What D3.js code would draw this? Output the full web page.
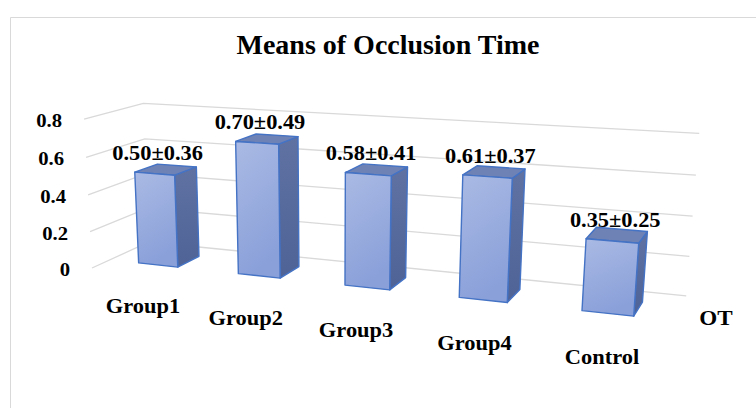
<!DOCTYPE html>
<html>
<head>
<meta charset="utf-8">
<script src="https://cdn.jsdelivr.net/npm/d3@7"></script>
<style>
  body { margin: 0; background: #fff; }
  text { font-family: "Liberation Serif", "Times New Roman", serif; font-weight: bold; fill: #000; }
</style>
</head>
<body>
<svg id="chart" width="756" height="408"></svg>
<script>
var categories = ["Group1", "Group2", "Group3", "Group4", "Control"];
var means = [0.50, 0.70, 0.58, 0.61, 0.35];
var sds = [0.36, 0.49, 0.41, 0.37, 0.25];
var yTicks = [0, 0.2, 0.4, 0.6, 0.8];
var series = ["OT"];

var width = 756, height = 408;

// camera: vanishing points of the three axes and image of the front-left floor corner
var vpX = [-2842, -58], vpY = [330, 4741], vpZ = [889, -96], origin = [92, 268];
var kX = -0.164, kY = -0.0322, kZ = 0.0769;

function project(u, v, w) {
  var hx = kX * u * vpX[0] + kY * v * vpY[0] + kZ * w * vpZ[0] + origin[0],
      hy = kX * u * vpX[1] + kY * v * vpY[1] + kZ * w * vpZ[1] + origin[1],
      hw = kX * u + kY * v + kZ * w + 1;
  return [hx / hw, hy / hw];
}

var xScale = d3.scaleBand().domain(categories).range([0, 1]).paddingInner(0.6).paddingOuter(0.3),
    yScale = d3.scaleLinear().domain([0, 0.8]).range([0, 1]),
    zScale = d3.scaleBand().domain(series).range([0, 1]).paddingInner(0.6).paddingOuter(0.3);

var fmt = d3.format(".2f");
var poly = d3.line().curve(d3.curveLinearClosed);

var svg = d3.select('#chart');

// chart area border
svg.append('path')
    .attr('d', 'M10.5,' + (height + 5) + 'V17.5H' + (width + 5))
    .attr('fill', 'none')
    .attr('stroke', '#d9d9d9')
    .attr('stroke-width', 1);

var defs = svg.append('defs');
var gFront = defs.append('linearGradient').attr('id', 'front')
    .attr('x1', 0).attr('y1', 0).attr('x2', 0.3).attr('y2', 1);
gFront.append('stop').attr('offset', 0).attr('stop-color', '#aabae4');
gFront.append('stop').attr('offset', 1).attr('stop-color', '#8aa0d9');
var gSide = defs.append('linearGradient').attr('id', 'side')
    .attr('x1', 0).attr('y1', 0).attr('x2', 0).attr('y2', 1);
gSide.append('stop').attr('offset', 0).attr('stop-color', '#5f72a2');
gSide.append('stop').attr('offset', 1).attr('stop-color', '#4f6397');

svg.append('text')
    .attr('x', 388)
    .attr('y', 54)
    .attr('text-anchor', 'middle')
    .style('font-size', '28px')
    .text('Means of Occlusion Time');

// text placed at a point, widened a little like the original rendering
function place(sx) {
  return function(p) { return 'translate(' + p[0] + ',' + p[1] + ') scale(' + sx + ',1)'; };
}

// Gridlines on the back wall and the left wall.
var grid = svg.append('g').attr('class', 'grid')
    .attr('stroke', '#d9d9d9')
    .attr('stroke-width', 1.3)
    .attr('fill', 'none');

yTicks.forEach(function(t) {
  var v = yScale(t);
  grid.append('path').attr('d', d3.line()([project(0, v, 0), project(0, v, 1), project(1, v, 1)]));
});

// tick labels along the front edge of the left wall
svg.append('g').selectAll('text')
    .data(yTicks)
  .enter().append('text')
    .attr('transform', function(d) {
      var p = project(0, yScale(d), 0);
      return place(1.15)([p[0] - 22, p[1] + 8]);
    })
    .attr('text-anchor', 'end')
    .style('font-size', '18px')
    .text(function(d) { return d === 0 ? '0' : d3.format('.1f')(d); });

var w0 = zScale(series[0]), w1 = w0 + zScale.bandwidth();

var bars = svg.selectAll('.bar')
    .data(categories)
  .enter().append('g')
    .attr('class', 'bar')
    .attr('stroke', '#4472c4')
    .attr('stroke-width', 1.4)
    .attr('stroke-linejoin', 'round');

bars.each(function(c, i) {
  var g = d3.select(this),
      u0 = xScale(c),
      u1 = u0 + xScale.bandwidth(),
      vt = yScale(means[i]);

  g.append('path')
      .attr('fill', 'url(#side)')
      .attr('d', poly([project(u1, 0, w0), project(u1, 0, w1), project(u1, vt, w1), project(u1, vt, w0)]));
  g.append('path')
      .attr('fill', '#6e82b5')
      .attr('d', poly([project(u0, vt, w0), project(u1, vt, w0), project(u1, vt, w1), project(u0, vt, w1)]));
  g.append('path')
      .attr('fill', 'url(#front)')
      .attr('d', poly([project(u0, 0, w0), project(u1, 0, w0), project(u1, vt, w0), project(u0, vt, w0)]));
});

// value labels above each bar
svg.append('g').selectAll('text')
    .data(categories)
  .enter().append('text')
    .attr('transform', function(c, i) {
      var p = project(xScale(c) + xScale.bandwidth() / 2, yScale(means[i]), w0);
      return place(1.12)([p[0] + 3, p[1] - 14]);
    })
    .attr('text-anchor', 'middle')
    .style('font-size', '20px')
    .text(function(c, i) { return fmt(means[i]) + '\u00b1' + fmt(sds[i]); });

// category labels in front of the floor
svg.append('g').selectAll('text')
    .data(categories)
  .enter().append('text')
    .attr('transform', function(c) {
      var p = project(xScale(c) + xScale.bandwidth() / 2, 0, 0);
      return place(1.07)([p[0] + 2, p[1] + 40]);
    })
    .attr('text-anchor', 'middle')
    .style('font-size', '21px')
    .text(String);

// depth (series) axis label
var pOT = project(1, 0, zScale(series[0]) + zScale.bandwidth() / 2);
svg.append('text')
    .attr('transform', place(1.1)([pOT[0] + 22, pOT[1] + 12]))
    .style('font-size', '21px')
    .text(series[0]);
</script>
</body>
</html>
